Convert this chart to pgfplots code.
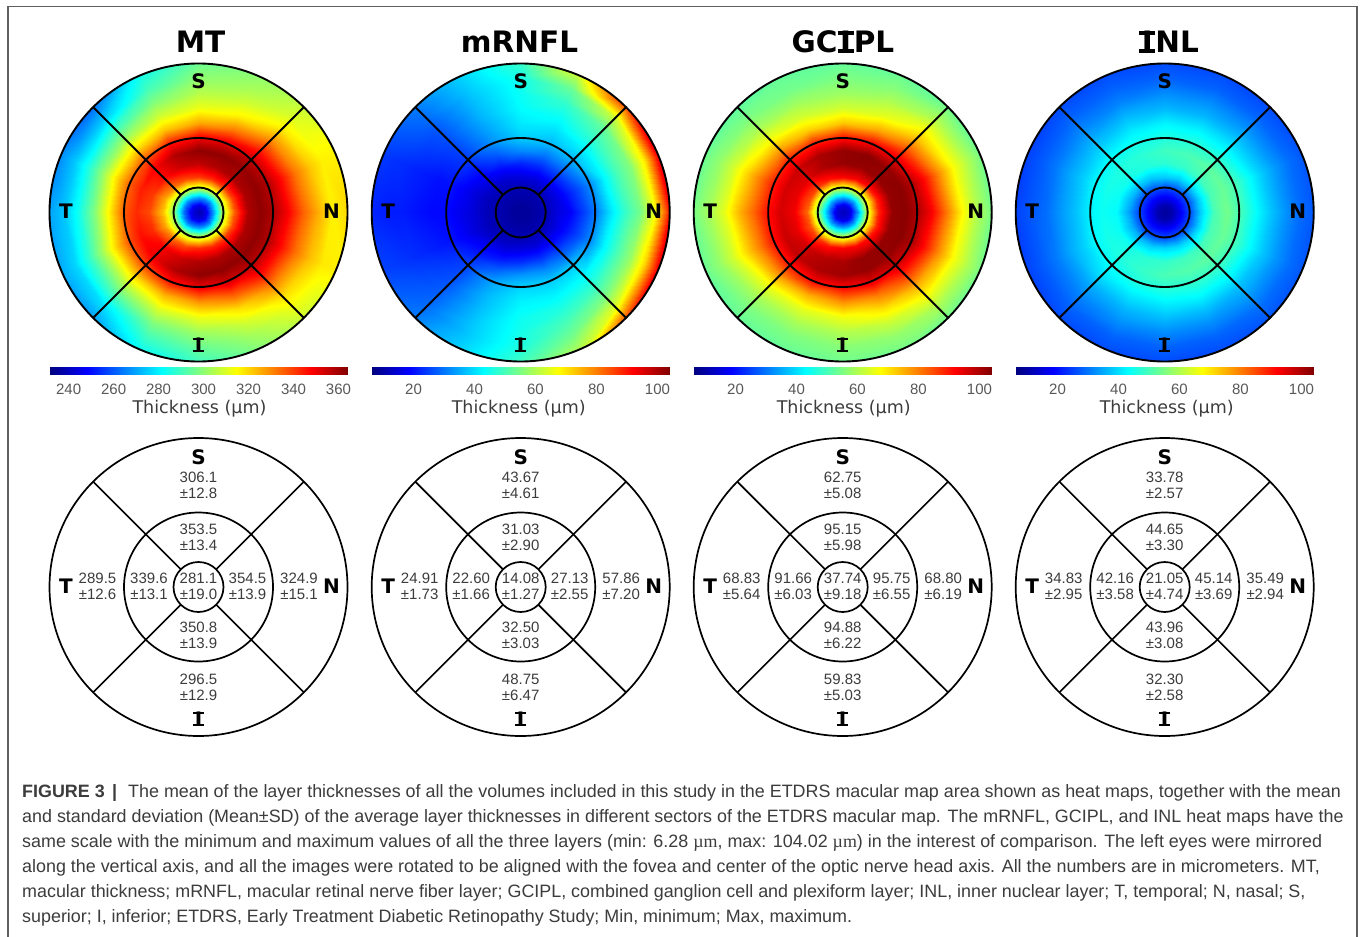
\documentclass[border=0pt]{standalone}
\usepackage{fontspec}
\usepackage{pgfplots}
\usepackage{pgfplotstable}
\pgfplotsset{compat=1.18}
\setmainfont{Liberation Sans}
\newfontfamily\dvb{DejaVu Sans}[BoldFont={DejaVu Sans Bold}]
\newfontfamily\lserif{Liberation Serif}
\definecolor{txt}{HTML}{3C3C3C}
\definecolor{tick}{HTML}{585858}
\definecolor{frame}{HTML}{606060}
\tikzset{
  ltr/.style={font=\dvb\bfseries\fontsize{20}{20}\selectfont,inner sep=0pt},
  num/.style={font=\fontsize{15}{15.8}\selectfont,text=txt,inner sep=0pt,align=center},
  ttl/.style={font=\dvb\bfseries\fontsize{29.5}{30}\selectfont,inner sep=0pt},
  capt/.style={font=\fontsize{17.9}{18}\selectfont,text=txt,anchor=west,inner sep=0pt}}
\newcommand\slabI{\mbox{\kern.09em\rlap{\kern-.09em\rule[0em]{.55em}{.12em}}\rlap{\kern-.09em\rule[.609em]{.55em}{.12em}}I\kern.09em}}
% values: one line per angle (0, 22.5, ... 360 deg; 0 = N, 90 = S), 13 radii each
\pgfplotstableread[row sep=\\]{v\\
238\\245\\268\\305\\335\\358\\362\\358\\348\\335\\325\\316\\320\\
238\\245\\268\\305\\338\\358\\362\\358\\346\\332\\322\\316\\316\\
238\\245\\266\\306\\340\\358\\361\\356\\342\\328\\316\\310\\306\\
238\\245\\266\\306\\342\\358\\362\\352\\332\\316\\308\\303\\298\\
238\\245\\266\\306\\340\\356\\362\\350\\326\\312\\305\\300\\294\\
238\\245\\266\\304\\338\\354\\358\\346\\322\\308\\298\\290\\282\\
238\\245\\264\\302\\332\\346\\348\\338\\318\\302\\288\\274\\259\\
238\\245\\262\\300\\325\\340\\344\\336\\318\\300\\285\\274\\264\\
238\\245\\262\\298\\322\\338\\342\\336\\316\\298\\284\\274\\268\\
238\\245\\262\\300\\326\\342\\346\\338\\320\\302\\287\\276\\268\\
238\\245\\264\\302\\332\\348\\350\\340\\320\\304\\290\\277\\266\\
238\\245\\266\\304\\338\\354\\358\\346\\324\\310\\298\\290\\280\\
238\\245\\266\\306\\342\\358\\362\\350\\328\\312\\302\\295\\288\\
238\\245\\266\\306\\342\\358\\362\\354\\335\\318\\308\\302\\296\\
238\\245\\266\\306\\340\\358\\362\\357\\344\\330\\318\\312\\306\\
238\\245\\268\\305\\338\\358\\362\\358\\346\\333\\323\\317\\316\\
238\\245\\268\\305\\335\\358\\362\\358\\348\\335\\325\\316\\320\\
}\tabMT
\pgfplotstableread[row sep=\\]{v\\
9\\9\\10\\11\\15\\18\\24\\30\\40\\48\\54\\66\\100\\
9\\9\\10\\11\\15\\20\\26\\32\\42\\50\\56\\70\\104\\
9\\9\\10\\11\\15\\22\\30\\36\\42\\48\\53\\63\\92\\
9\\9\\10\\11\\15\\22\\30\\36\\40\\44\\48\\53\\66\\
9\\9\\10\\11\\15\\22\\32\\38\\41\\43\\44\\45\\49\\
9\\9\\10\\11\\14\\20\\27\\32\\34\\36\\37\\38\\40\\
9\\9\\10\\11\\13\\17\\21\\24\\25\\26\\27\\29\\31\\
9\\9\\10\\11\\12\\15\\18\\20\\20\\21\\22\\23\\24\\
9\\9\\10\\11\\12\\15\\17\\19\\19\\20\\21\\21\\22\\
9\\9\\10\\11\\12\\15\\18\\20\\21\\22\\23\\24\\25\\
9\\9\\10\\11\\13\\18\\22\\25\\26\\27\\28\\29\\31\\
9\\9\\10\\11\\14\\20\\28\\34\\36\\37\\38\\38\\40\\
9\\9\\10\\11\\15\\23\\33\\39\\42\\44\\45\\46\\50\\
9\\9\\10\\11\\15\\23\\32\\38\\42\\46\\50\\54\\62\\
9\\9\\10\\11\\15\\22\\30\\38\\43\\48\\55\\65\\92\\
9\\9\\10\\11\\15\\20\\26\\32\\42\\50\\58\\72\\104\\
9\\9\\10\\11\\15\\18\\24\\30\\40\\48\\54\\66\\100\\
}\tabRN
\pgfplotstableread[row sep=\\]{v\\
12\\16\\34\\62\\88\\102\\103\\100\\92\\80\\68\\60\\52\\
12\\16\\34\\62\\88\\102\\103\\99\\90\\78\\67\\60\\52\\
12\\16\\33\\62\\90\\102\\102\\95\\84\\74\\66\\59\\52\\
12\\16\\33\\62\\92\\102\\103\\93\\76\\65\\60\\56\\52\\
12\\16\\33\\62\\92\\102\\102\\91\\73\\63\\58\\55\\52\\
12\\16\\33\\60\\90\\100\\100\\90\\72\\63\\58\\54\\52\\
12\\16\\33\\60\\86\\95\\97\\90\\76\\66\\59\\55\\51\\
12\\16\\33\\58\\84\\94\\96\\90\\80\\71\\63\\57\\52\\
12\\16\\33\\56\\82\\93\\96\\91\\82\\74\\65\\59\\53\\
12\\16\\33\\58\\84\\94\\97\\91\\80\\71\\63\\57\\52\\
12\\16\\33\\60\\86\\96\\98\\90\\77\\66\\59\\55\\52\\
12\\16\\33\\60\\90\\99\\100\\92\\75\\65\\59\\55\\52\\
12\\16\\33\\62\\92\\100\\101\\92\\78\\66\\60\\56\\53\\
12\\16\\33\\62\\92\\102\\102\\95\\80\\70\\62\\57\\53\\
12\\16\\33\\62\\90\\102\\102\\97\\86\\75\\66\\59\\52\\
12\\16\\34\\62\\88\\102\\103\\100\\90\\78\\67\\60\\52\\
12\\16\\34\\62\\88\\102\\103\\100\\92\\80\\68\\60\\52\\
}\tabGC
\pgfplotstableread[row sep=\\]{v\\
9\\11\\17\\25\\38\\50\\54\\50\\44\\38\\33\\29\\26\\
9\\11\\17\\25\\38\\50\\53\\50\\44\\38\\33\\29\\26\\
9\\11\\17\\25\\38\\49\\52\\48\\42\\37\\32\\28\\25\\
9\\11\\17\\25\\38\\48\\50\\47\\42\\36\\32\\28\\25\\
9\\11\\17\\25\\38\\47\\49\\46\\42\\36\\32\\28\\25\\
9\\11\\17\\25\\37\\46\\47\\45\\41\\36\\31\\28\\25\\
9\\11\\17\\24\\36\\45\\46\\44\\39\\35\\31\\28\\25\\
9\\11\\17\\24\\35\\44\\45\\43\\38\\34\\30\\27\\24\\
9\\11\\17\\24\\34\\43\\44\\42\\37\\33\\29\\27\\24\\
9\\11\\17\\24\\35\\44\\45\\43\\38\\34\\30\\27\\24\\
9\\11\\17\\24\\36\\45\\46\\44\\40\\35\\31\\28\\25\\
9\\11\\17\\25\\38\\47\\48\\46\\41\\36\\32\\28\\25\\
9\\11\\17\\25\\39\\48\\50\\47\\42\\37\\32\\28\\25\\
9\\11\\17\\25\\39\\49\\51\\48\\43\\37\\32\\28\\25\\
9\\11\\17\\25\\38\\49\\52\\49\\43\\37\\33\\29\\26\\
9\\11\\17\\25\\38\\50\\53\\50\\44\\38\\33\\29\\26\\
9\\11\\17\\25\\38\\50\\54\\50\\44\\38\\33\\29\\26\\
}\tabIN
% radius column: the 13 radii of the polar grid, repeated for every angle
\newcommand\addrad[1]{\pgfplotstablecreatecol[create col/assign/.code={%
  \edef\thisr{\ifcase\numexpr\pgfplotstablerow-13*((\pgfplotstablerow-6)/13)\relax
   0\or 0.05\or 0.1\or 0.165\or 0.24\or 0.33\or 0.42\or 0.5\or 0.6\or 0.7\or 0.8\or 0.9\or 1.04\fi}%
  \pgfkeyslet{/pgfplots/table/create col/next content}\thisr}]{r}{#1}}
\addrad\tabMT \addrad\tabRN \addrad\tabGC \addrad\tabIN
\pgfplotsset{colormap/jet}
% #1 centre x, #2 table, #3 min, #4 max
\newcommand{\heat}[4]{%
\begin{axis}[at={(#1pt,724.5pt)},anchor=center,hide axis,x=149pt,y=149pt,
  xmin=-1.1,xmax=1.1,ymin=-1.1,ymax=1.1,clip=false,
  point meta min=#3,point meta max=#4,colormap/jet]
\begin{scope}
\clip (axis cs:0,0) circle [radius=1];
\addplot[surf,shader=interp,mesh/rows=17,mesh/cols=13,point meta=explicit] table[
  x expr={\thisrow{r}*cos(22.5*floor(\coordindex/13))},
  y expr={\thisrow{r}*sin(22.5*floor(\coordindex/13))},
  meta=v]{#2};
\end{scope}
\end{axis}}
% #1 centre x, #2 min, #3 max, #4 ticks, #5 label shift
\newcommand{\cbar}[5]{%
\begin{axis}[at={(#1pt-149pt,562pt)},anchor=south west,scale only axis,width=298pt,height=8.3pt,
  xmin=#2,xmax=#3,ymin=0,ymax=1,ytick=\empty,xtick={#4},axis line style={draw=none},
  xtick pos=bottom,tick align=inside,major tick length=1.5pt,tick style={draw=gray},
  point meta min=#2,point meta max=#3,colormap/jet,
  /pgf/number format/assume math mode=true,
  xticklabel style={font=\fontsize{15}{15}\selectfont,text=tick,anchor=center,yshift=-14pt},
  xlabel={Thickness (µm)},
  xlabel style={font=\dvb\fontsize{17.5}{18}\selectfont,text=txt,at={(axis description cs:0.5,0)},anchor=center,yshift=-34pt,xshift=#5pt},
  clip=false]
\addplot[surf,shader=interp,mesh/rows=2,mesh/cols=2,point meta=x] coordinates {(#2,0) (#3,0) (#2,1) (#3,1)};
\end{axis}}
% overlay: outline and letters of one circle; #1 cx, #2 cy, #3 shift of S, #4 shift of I, #5 line width
\newcommand{\ring}[5]{%
\draw[black,line width=#5pt] (axis cs:#1,#2) circle [radius=149];
\draw[black,line width=#5pt] (axis cs:#1,#2) circle [radius=74.5];
\draw[black,line width=#5pt] (axis cs:#1,#2) circle [radius=25];
\draw[black,line width=#5pt] (axis cs:{#1+17.7},{#2+17.7}) -- (axis cs:{#1+105.4},{#2+105.4});
\draw[black,line width=#5pt] (axis cs:{#1+17.7},{#2-17.7}) -- (axis cs:{#1+105.4},{#2-105.4});
\draw[black,line width=#5pt] (axis cs:{#1-17.7},{#2+17.7}) -- (axis cs:{#1-105.4},{#2+105.4});
\draw[black,line width=#5pt] (axis cs:{#1-17.7},{#2-17.7}) -- (axis cs:{#1-105.4},{#2-105.4});
\node[ltr] at (axis cs:#1,{#2-#3}) {S};
\node[ltr] at (axis cs:#1,{#2+#4}) {\slabI};
\node[ltr] at (axis cs:{#1-132.5},{#2-1}) {T};
\node[ltr] at (axis cs:{#1+133},{#2-1}) {N};}
% #1 cx, then S outer, S inner, I inner, I outer, centre
\newcommand{\vals}[6]{%
\node[num] at (axis cs:#1,485.5) {#2};
\node[num] at (axis cs:#1,537.5) {#3};
\node[num] at (axis cs:#1,635) {#4};
\node[num] at (axis cs:#1,687) {#5};
\node[num] at (axis cs:#1,586.5) {#6};}
% #1 cx, then T outer, T inner, N inner, N outer
\newcommand{\valsb}[5]{%
\node[num] at (axis cs:{#1-101},586.5) {#2};
\node[num] at (axis cs:{#1-49.5},586.5) {#3};
\node[num] at (axis cs:{#1+49},586.5) {#4};
\node[num] at (axis cs:{#1+100.5},586.5) {#5};}
\begin{document}
\begin{tikzpicture}[x=1pt,y=1pt]
\path[use as bounding box] (0,0) rectangle (1360pt,937pt);
\fill[white] (0,0) rectangle (1360pt,937pt);
\heat{198.5}{\tabMT}{231.5}{364}
\heat{520.7}{\tabRN}{6.28}{104.02}
\heat{842.7}{\tabGC}{6.28}{104.02}
\heat{1164.7}{\tabIN}{6.28}{104.02}
\cbar{198.5}{231.5}{364}{240,260,...,360}{1}
\cbar{520.7}{6.28}{104.02}{20,40,...,100}{-2}
\cbar{842.7}{6.28}{104.02}{20,40,...,100}{1}
\cbar{1164.7}{6.28}{104.02}{20,40,...,100}{2}
\begin{axis}[at={(0pt,0pt)},anchor=south west,hide axis,x=1pt,y=1pt,xmin=0,xmax=1360,ymin=0,ymax=937,y dir=reverse,clip=false]
\draw[frame,line width=1.2pt] (axis cs:8,937) -- (axis cs:8,6.5) -- (axis cs:1357,6.5) -- (axis cs:1357,937);
\node[ttl] at (axis cs:200.5,42) {MT};
\node[ttl] at (axis cs:519.5,42) {mRNFL};
\node[ttl] at (axis cs:843,42) {GC\slabI PL};
\node[ttl] at (axis cs:1169,42) {\slabI NL};
\ring{198.5}{212.5}{131}{132.5}{1.9}
\ring{520.7}{212.5}{131}{132.5}{1.9}
\ring{842.7}{212.5}{131}{132.5}{1.9}
\ring{1164.7}{212.5}{131}{132.5}{1.9}
\ring{198.5}{587}{130}{132}{1.7}
\ring{520.7}{587}{130}{132}{1.7}
\ring{842.7}{587}{130}{132}{1.7}
\ring{1164.7}{587}{130}{132}{1.7}
\vals{198.5}{306.1\\±12.8}{353.5\\±13.4}{350.8\\±13.9}{296.5\\±12.9}{281.1\\±19.0}
\valsb{198.5}{289.5\\±12.6}{339.6\\±13.1}{354.5\\±13.9}{324.9\\±15.1}
\vals{520.7}{43.67\\±4.61}{31.03\\±2.90}{32.50\\±3.03}{48.75\\±6.47}{14.08\\±1.27}
\valsb{520.7}{24.91\\±1.73}{22.60\\±1.66}{27.13\\±2.55}{57.86\\±7.20}
\vals{842.7}{62.75\\±5.08}{95.15\\±5.98}{94.88\\±6.22}{59.83\\±5.03}{37.74\\±9.18}
\valsb{842.7}{68.83\\±5.64}{91.66\\±6.03}{95.75\\±6.55}{68.80\\±6.19}
\vals{1164.7}{33.78\\±2.57}{44.65\\±3.30}{43.96\\±3.08}{32.30\\±2.58}{21.05\\±4.74}
\valsb{1164.7}{34.83\\±2.95}{42.16\\±3.58}{45.14\\±3.69}{35.49\\±2.94}
\node[capt] at (axis cs:22,793) {\textbf{FIGURE 3\kern2.5pt{} |}\kern6pt{} The mean of the layer thicknesses of all the volumes included in this study in the ETDRS macular map area shown as heat maps, together with the mean};
\node[capt] at (axis cs:22,818) {and standard deviation (Mean±SD) of the average layer thicknesses in different sectors of the ETDRS macular map. The mRNFL, GCIPL, and INL heat maps have the};
\node[capt] at (axis cs:22,843) {same scale with the minimum and maximum values of all the three layers (min: 6.28 {\lserif µm}, max: 104.02 {\lserif µm}) in the interest of comparison. The left eyes were mirrored};
\node[capt] at (axis cs:22,868) {along the vertical axis, and all the images were rotated to be aligned with the fovea and center of the optic nerve head axis. All the numbers are in micrometers. MT,};
\node[capt] at (axis cs:22,893) {macular thickness; mRNFL, macular retinal nerve fiber layer; GCIPL, combined ganglion cell and plexiform layer; INL, inner nuclear layer; T, temporal; N, nasal; S,};
\node[capt] at (axis cs:22,918) {superior; I, inferior; ETDRS, Early Treatment Diabetic Retinopathy Study; Min, minimum; Max, maximum.};
\end{axis}
\end{tikzpicture}
\end{document}
